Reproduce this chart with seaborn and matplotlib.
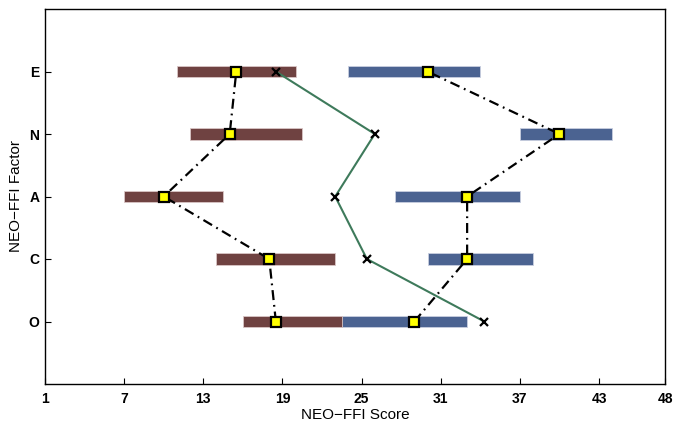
import numpy as np
import pandas as pd
import matplotlib
matplotlib.use("Agg")
import matplotlib.pyplot as plt
import seaborn as sns

# NEO-FFI factors, bottom to top
factors = ["O", "C", "A", "N", "E"]

# low-scoring group (brown) ranges and medians
low_start = [16.0, 14.0, 7.0, 12.0, 11.0]
low_end = [23.5, 23.0, 14.5, 20.5, 20.0]
low_mid = [18.5, 18.0, 10.0, 15.0, 15.5]

# high-scoring group (blue) ranges and medians
high_start = [22.6, 30.0, 27.5, 37.0, 24.0]
high_end = [33.0, 38.0, 37.0, 44.0, 34.0]
high_mid = [29.0, 33.0, 33.0, 40.0, 30.0]

# cross markers (green line)
cross_vals = [34.3, 25.4, 23.0, 26.0, 18.5]

x_ticks = [1, 7, 13, 19, 25, 31, 37, 43, 48]

sns.set_style("white")
plt.rcParams['font.family'] = ['Liberation Sans', 'DejaVu Sans']
plt.rcParams['text.color'] = 'black'
plt.rcParams['axes.labelcolor'] = 'black'
plt.rcParams['xtick.color'] = 'black'
plt.rcParams['ytick.color'] = 'black'

ypos = np.arange(1, len(factors) + 1)
df = pd.DataFrame({
    "factor": factors, "y": ypos,
    "low_start": low_start, "low_end": low_end, "low_mid": low_mid,
    "high_start": high_start, "high_end": high_end, "high_mid": high_mid,
    "cross": cross_vals,
})

fig = plt.figure(figsize=(6.73, 4.22), dpi=100)
ax = fig.add_axes([45 / 673, 1 - 384 / 422, (665 - 45) / 673, (384 - 9) / 422])

brown = "#6f4241"
blue = "#4b6391"
bar_h = 0.19

ax.barh(df["y"], df["high_end"] - df["high_start"], left=df["high_start"],
        height=bar_h, color=blue, edgecolor="#c9cfe0", linewidth=0.6, zorder=1)
ax.barh(df["y"], df["low_end"] - df["low_start"], left=df["low_start"],
        height=bar_h, color=brown, edgecolor="#d9c6c6", linewidth=0.6, zorder=2)

# green line through crosses
sns.lineplot(data=df, x="cross", y="y", sort=False, estimator=None, ax=ax,
             color="#3e7a5b", linewidth=1.5, zorder=3)
ax.plot(df["cross"], df["y"], linestyle="none", marker="x", color="black",
        markersize=6, markeredgewidth=1.6, zorder=5)

# dash-dot lines through medians
for col in ["low_mid", "high_mid"]:
    ax.plot(df[col], df["y"], color="black", linestyle="-.", linewidth=1.6,
            dashes=(4.5, 2.2, 0.8, 2.2), zorder=3)
    ax.plot(df[col], df["y"], linestyle="none", marker="s", markersize=6.8,
            markerfacecolor="#ffff00", markeredgecolor="black",
            markeredgewidth=1.6, zorder=6)

ax.set_xlim(1, 48)
ax.set_ylim(0, 6)
ax.set_xticks(x_ticks)
ax.set_xticklabels([str(t) for t in x_ticks], fontweight="bold", fontsize=10)
ax.set_yticks(ypos)
ax.set_yticklabels(factors, fontweight="bold", fontsize=10)
ax.tick_params(axis="x", direction="in", length=4, width=0.8, pad=6, bottom=True)
ax.tick_params(axis="y", direction="in", length=4, width=0.8, pad=4, left=True)
for s in ax.spines.values():
    s.set_linewidth(1.0)
    s.set_color("black")

ax.set_xlabel("NEO\u2212FFI Score", fontsize=11, labelpad=1)
ax.set_ylabel("NEO\u2212FFI Factor", fontsize=11, labelpad=4)

fig.savefig("out.png", dpi=100)
